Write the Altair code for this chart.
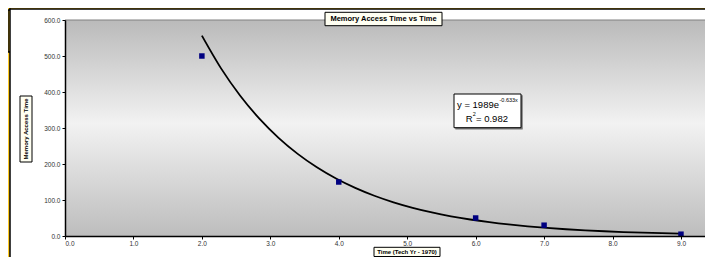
import altair as alt
import pandas as pd

# ---- data ----
years = [2.0, 4.0, 6.0, 7.0, 9.0]
access_time = [500.0, 150.0, 50.0, 30.0, 5.0]
x_ticks = [0, 1, 2, 3, 4, 5, 6, 7, 8, 9]
y_ticks = [0, 100, 200, 300, 400, 500, 600]
title_text = "Memory Access Time vs Time"
x_title = "Time (Tech Yr - 1970)"
y_title = "Memory Access Time"
eq_main = "y = 1989e"
eq_exp = "-0.633x"
r2_text = "= 0.982"

W, H = 640, 216
PAD_T, PAD_B = 12, 21
FONT = "Liberation Sans"
YELLOW = "#FFCC26"

df = pd.DataFrame({"x": years, "y": access_time})
one = pd.DataFrame({"a": [0]})

xs = alt.Scale(domain=[0, 9.351], nice=False, zero=False)
ys = alt.Scale(domain=[0, 600], nice=False)

axis_common = dict(grid=False, title="", domainColor="black", domainWidth=1.5,
                   tickColor="black", tickSize=3, tickWidth=1,
                   labelFont=FONT, labelFontSize=6.5, labelColor="#333333",
                   format=".1f", zindex=1)
x_axis = alt.Axis(values=x_ticks, labelPadding=1.5, **axis_common)
y_axis = alt.Axis(values=y_ticks, labelPadding=2, **axis_common)


def box(x1, x2, y1, y2, fill, stroke="black", sw=1.0):
    return alt.Chart(one).mark_rect(fill=fill, stroke=stroke, strokeWidth=sw).encode(
        x=alt.value(x1), x2=alt.value(x2), y=alt.value(y1), y2=alt.value(y2))


def label(x, y, txt, size, weight="normal", align="center", baseline="alphabetic", angle=0):
    return alt.Chart(one).mark_text(font=FONT, fontSize=size, fontWeight=weight, align=align,
                                    baseline=baseline, angle=angle, color="black").encode(
        x=alt.value(x), y=alt.value(y), text=alt.value(txt))


def line(x1, x2, y1, y2, color="black", sw=1.5):
    return alt.Chart(one).mark_rule(color=color, strokeWidth=sw).encode(
        x=alt.value(x1), x2=alt.value(x2), y=alt.value(y1), y2=alt.value(y2))


hidden_box = box(-57, -52, -10, 32, YELLOW, sw=1.5)
chart_area = alt.Chart(one).mark_rect(fill="white").encode(
    x=alt.value(-55), x2=alt.value(W), y=alt.value(-11), y2=alt.value(H + PAD_B))
chart_left = line(-55, -55, -11.75, H + PAD_B)
chart_top = line(-55.75, W, -11, -11)

plot_bg = alt.Chart(one).mark_rect(
    fill=alt.Gradient(gradient="linear", x1=0, y1=0, x2=0, y2=1,
                      stops=[alt.GradientStop(offset=0, color="#bababa"),
                             alt.GradientStop(offset=0.48, color="#f2f2f2"),
                             alt.GradientStop(offset=1, color="#bdbdbd")])
).encode(x=alt.value(0), x2=alt.value(W), y=alt.value(0), y2=alt.value(H))

top_border = line(0, W, 0, 0, color="#808080", sw=1)

trend = alt.Chart(df).transform_calculate(
    ly="log(datum.y)"
).transform_regression(
    "x", "ly", method="poly", order=1, extent=[2, 9]
).transform_calculate(
    yy="exp(datum.ly)"
).mark_line(color="black", strokeWidth=1.8, interpolate="monotone").encode(
    x=alt.X("x:Q", scale=xs, axis=x_axis),
    y=alt.Y("yy:Q", scale=ys, axis=y_axis),
)

points = alt.Chart(df).mark_square(size=30, color="#000080", opacity=1, filled=True).encode(
    x=alt.X("x:Q", scale=xs, axis=x_axis),
    y=alt.Y("y:Q", scale=ys, axis=y_axis),
)

# chart title
t_box_o = box(260, 377, -7.7, 5.7, "#FFFFF2", sw=1)
t_txt = label(318.5, -1, title_text, 7.5, weight="bold", baseline="middle")

# equation box
eq_shadow = box(390.5, 457.5, 75.5, 109.2, "#777777", stroke="#777777", sw=0.5)
eq_box = box(389, 456, 74, 107.7, "white", sw=1)
eq1 = label(434, 88, eq_main, 9.5, align="right")
eq1s = label(434.5, 82, eq_exp, 5.5, align="left")
eq2a = label(407.5, 101.7, "R", 9.5, align="right")
eq2s = label(407.8, 96, "2", 5.5, align="left")
eq2b = label(411, 101.7, r2_text, 9.5, align="left")

# axis titles
xt_box = box(309, 375, 227.3, 236.5, "#FFFFF2", sw=1)
xt_txt = label(342, 232.1, x_title, 6, weight="bold", baseline="middle")
yt_box = box(-45, -33, 76, 142, "#FFFFF2", sw=1)
yt_txt = label(-39, 109, y_title, 6, weight="bold", baseline="middle", angle=270)

chart = alt.layer(
    hidden_box, chart_area, chart_left, chart_top, plot_bg, top_border, trend, points,
    t_box_o, t_txt, eq_shadow, eq_box, eq1, eq1s, eq2a, eq2s, eq2b,
    xt_box, xt_txt, yt_box, yt_txt,
).properties(
    width=W, height=H, background=YELLOW,
    padding={"left": 57, "top": PAD_T, "right": 0, "bottom": PAD_B},
    autosize=alt.AutoSizeParams(type="none"),
).configure_view(stroke=None)

chart.save("out.html", embed_options={"renderer": "svg", "actions": False})
